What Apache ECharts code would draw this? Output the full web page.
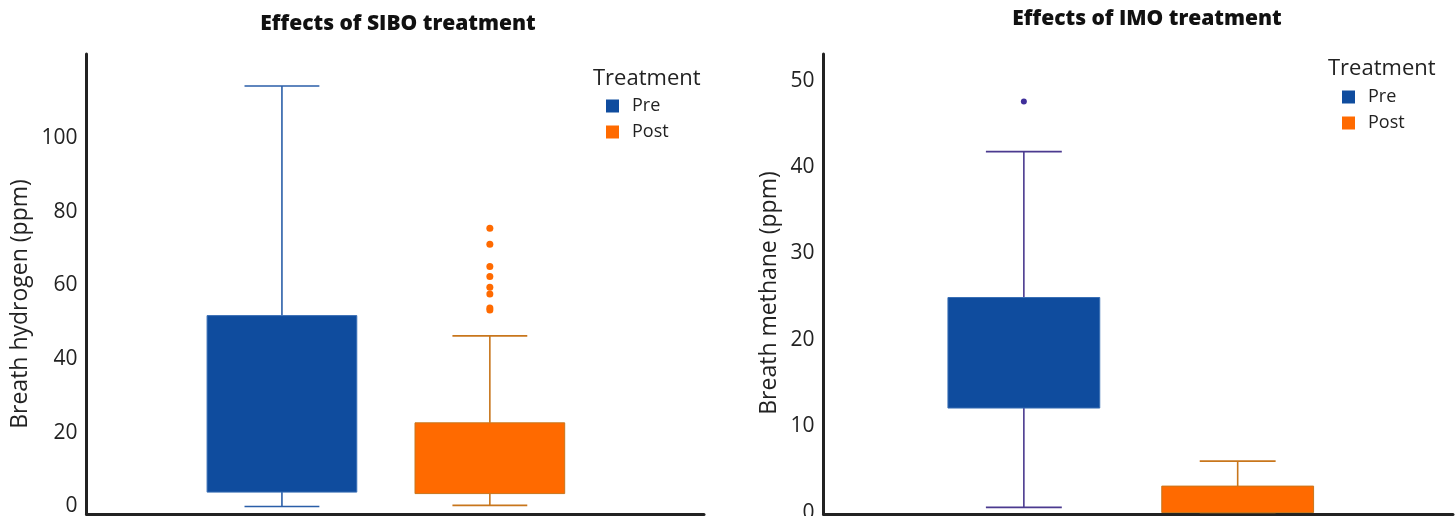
<!DOCTYPE html>
<html><head><meta charset="utf-8">
<script src="https://cdn.jsdelivr.net/npm/echarts@6/dist/echarts.min.js"></script>
<style>html,body{margin:0;padding:0;background:#fff}#c{width:1455px;height:516px}</style>
</head><body><div id="c"></div>
<script>
// ---- data ----
const categories = ['Pre', 'Post'];
// each box: [low whisker, Q1, Q3, high whisker]  (median not drawn in the source chart)
const siboPre = [0, 3.9, 51.8, 114.1];
const siboPost = [0.3, 3.5, 22.7, 46.3];
const siboPostOutliers = [75.5, 71.2, 65.1, 62.4, 59.5, 57.7, 53.9, 53.3];
const imoPre = [0.6, 12.1, 24.9, 41.8];
const imoPost = [0, 0, 3.06, 5.95];
const imoPreOutliers = [47.6];
const siboTicks = [0, 20, 40, 60, 80, 100];
const imoTicks = [0, 10, 20, 30, 40, 50];

// ---- styles ----
const FONT = 'Open Sans';
const TXT = '#222';
const PRE_FILL = '#0f4c9e', POST_FILL = '#ff6a00';

function boxRenderer(fill, border, whisker, boxW) {
  return function (params, api) {
    const x = api.value(0);
    const low = api.coord([x, api.value(1)]);
    const q1 = api.coord([x, api.value(2)]);
    const q3 = api.coord([x, api.value(3)]);
    const high = api.coord([x, api.value(4)]);
    const w = api.size([boxW, 0])[0];
    const cx = low[0];
    const ls = { stroke: whisker, lineWidth: 1.6 };
    return {
      type: 'group',
      children: [
        { type: 'line', shape: { x1: cx, y1: high[1], x2: cx, y2: q3[1] }, style: ls },
        { type: 'line', shape: { x1: cx, y1: low[1], x2: cx, y2: q1[1] }, style: ls },
        { type: 'line', shape: { x1: cx - w / 4, y1: high[1], x2: cx + w / 4, y2: high[1] }, style: ls },
        { type: 'line', shape: { x1: cx - w / 4, y1: low[1], x2: cx + w / 4, y2: low[1] }, style: ls },
        { type: 'rect', shape: { x: cx - w / 2, y: q3[1], width: w, height: q1[1] - q3[1] },
          style: { fill: fill, stroke: border, lineWidth: 1 } }
      ]
    };
  };
}
function boxSeries(name, idx, vals, gridIdx, fill, border, whisker, boxW) {
  return {
    type: 'custom', name: name, xAxisIndex: gridIdx, yAxisIndex: gridIdx,
    itemStyle: { color: fill },
    renderItem: boxRenderer(fill, border, whisker, boxW),
    encode: { x: 0, y: [1, 2, 3, 4] },
    data: [[idx].concat(vals)],
    silent: true
  };
}
function outlierSeries(name, idx, vals, gridIdx, color, size) {
  return {
    type: 'scatter', name: name, xAxisIndex: gridIdx, yAxisIndex: gridIdx,
    symbolSize: size, itemStyle: { color: color, opacity: 1 }, silent: true,
    data: vals.map(v => [idx, v])
  };
}
const axisLine = { show: true, onZero: false, lineStyle: { color: '#222', width: 3 } };
function yAx(g, min, max, ticks, name, gap, pad) {
  return {
    gridIndex: g, type: 'value', min: min, max: max,
    axisLine: axisLine, axisTick: { show: false }, splitLine: { show: false },
    axisLabel: { customValues: ticks, fontFamily: FONT, fontSize: 21, color: TXT, margin: 9 },
    name: name, nameLocation: 'middle', nameGap: gap, nameRotate: 90,
    nameTextStyle: { fontFamily: FONT, fontSize: 23, color: TXT, padding: pad }
  };
}
function xAx(g, min, max) {
  return {
    gridIndex: g, type: 'value', min: min, max: max,
    axisLine: axisLine, axisTick: { show: false }, splitLine: { show: false },
    axisLabel: { show: false }
  };
}
const legendCommon = {
  orient: 'vertical', icon: 'rect', itemWidth: 13, itemHeight: 13, itemGap: 8,
  selectedMode: false, textStyle: { fontFamily: FONT, fontSize: 18, color: TXT, padding: [0, 0, 0, 8] },
  data: categories.map((c, i) => ({ name: c, itemStyle: { color: i === 0 ? PRE_FILL : POST_FILL } }))
};
const titleStyle = { fontFamily: FONT, fontSize: 21, fontWeight: 800, color: '#111' };
const legTitleStyle = { fontFamily: FONT, fontSize: 22, fontWeight: 'normal', color: TXT };

const chart = echarts.init(document.getElementById('c'), null, { renderer: 'canvas' });
chart.setOption({
  animation: false,
  backgroundColor: '#fff',
  title: [
    { text: 'Effects of SIBO treatment', left: 393, top: 9, textAlign: 'center', textStyle: titleStyle },
    { text: 'Effects of IMO treatment', left: 1142, top: 4, textAlign: 'center', textStyle: titleStyle },
    { text: 'Treatment', left: 588, top: 63, textStyle: legTitleStyle },
    { text: 'Treatment', left: 1323, top: 53, textStyle: legTitleStyle }
  ],
  legend: [
    Object.assign({ left: 601, top: 92 }, legendCommon),
    Object.assign({ left: 1337, top: 83 }, legendCommon)
  ],
  grid: [
    { left: 86.5, right: 751, top: 54, bottom: 2, outerBoundsMode: 'none' },
    { left: 823.5, right: 2, top: 54, bottom: 2, outerBoundsMode: 'none' }
  ],
  xAxis: [xAx(0, -0.94, 2.03), xAx(1, -0.937, 2.007)],
  yAxis: [
    yAx(0, -2.04, 122.8, siboTicks, 'Breath hydrogen (ppm)', 55, [0, 40, 0, 0]),
    yAx(1, -0.17, 53.1, imoTicks, 'Breath methane (ppm)', 43, [0, 18, 0, 0])
  ],
  series: [
    boxSeries('Pre', 0, siboPre, 0, PRE_FILL, '#3a6fb5', '#2a5ea8', 0.72),
    boxSeries('Post', 1, siboPost, 0, POST_FILL, '#c8761c', '#c8761c', 0.72),
    outlierSeries('Post outliers', 1, siboPostOutliers, 0, '#ff6a00', 7),
    boxSeries('Pre', 0, imoPre, 1, PRE_FILL, '#3a6fb5', '#4b3a8f', 0.71),
    boxSeries('Post', 1, imoPost, 1, POST_FILL, '#c8761c', '#c8761c', 0.71),
    outlierSeries('Pre outliers', 0, imoPreOutliers, 1, '#3f2f9a', 6)
  ]
});
</script>
</body></html>
